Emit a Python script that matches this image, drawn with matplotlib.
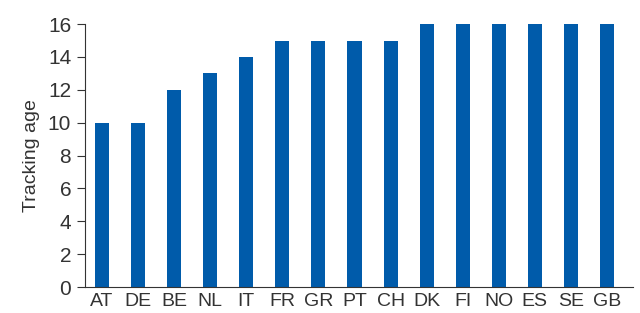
import matplotlib
matplotlib.use("Agg")
import matplotlib.pyplot as plt
import numpy as np

countries = ["AT", "DE", "BE", "NL", "IT", "FR", "GR", "PT", "CH",
             "DK", "FI", "NO", "ES", "SE", "GB"]
tracking_age = [10, 10, 12, 13, 14, 15, 15, 15, 15, 16, 16, 16, 16, 16, 16]

plt.rcParams["font.family"] = ["Liberation Sans", "DejaVu Sans"]

fig = plt.figure(figsize=(6.4, 3.13), dpi=100)
ax = fig.add_axes([0.133, 0.083, 0.856, 0.840])

x = np.arange(len(countries))
ax.bar(x, tracking_age, width=0.39, color="#005BAA")

ax.set_xlim(-0.47, 14.72)
ax.set_ylim(0, 16)
ax.set_yticks(range(0, 17, 2))
ax.set_xticks(x)
ax.set_xticklabels(countries)
ax.set_ylabel("Tracking age", fontsize=14, color="#333333", labelpad=6)

for s in ("top", "right"):
    ax.spines[s].set_visible(False)
for s in ("left", "bottom"):
    ax.spines[s].set_color("#333333")
ax.tick_params(axis="y", labelsize=15, colors="#333333", length=6, pad=4)
ax.tick_params(axis="x", labelsize=14, colors="#333333", length=0, pad=4)

fig.savefig("out.png", dpi=100)
